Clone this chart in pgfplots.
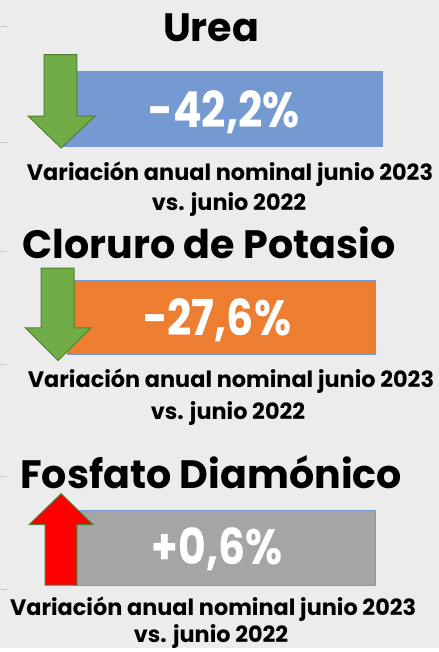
\documentclass[border=0pt]{standalone}
\usepackage{pgfplots}
\pgfplotsset{compat=1.18}
\usepackage{fontspec}
\setmainfont{Poppins}
\definecolor{bgc}{HTML}{ECECEC}
\definecolor{ureab}{HTML}{7599D1}
\definecolor{clob}{HTML}{ED7D31}
\definecolor{fosb}{HTML}{A5A5A5}
\definecolor{agreen}{HTML}{70AD47}
\definecolor{agreend}{HTML}{507E32}
\definecolor{ared}{HTML}{FF0000}
\begin{document}
\begin{tikzpicture}
\begin{axis}[
  width=441bp, height=652bp, scale only axis,
  xmin=0, xmax=441, ymin=0, ymax=652, y dir=reverse,
  axis lines=none, clip=false,
  axis background/.style={fill=bgc},
]
% left edge marks
\addplot[draw=gray!45, line width=1pt, forget plot] coordinates {(0,27) (7,27)};
\addplot[draw=gray!45, line width=1pt, forget plot] coordinates {(0,143) (7,143)};
\addplot[draw=gray!45, line width=1pt, forget plot] coordinates {(0,253) (7,253)};
\addplot[draw=gray!45, line width=1pt, forget plot] coordinates {(0,367) (7,367)};
\addplot[draw=gray!45, line width=1pt, forget plot] coordinates {(0,480) (7,480)};
\addplot[draw=gray!45, line width=1pt, forget plot] coordinates {(0,593) (7,593)};
% boxes
\addplot[fill=ureab, draw=none] coordinates {(62,71) (385,71) (385,148) (62,148)} -- cycle;
\addplot[fill=clob, draw=ureab, line width=1pt] coordinates {(67,282) (377,282) (377,357) (67,357)} -- cycle;
\addplot[fill=fosb, draw=ureab, line width=1pt] coordinates {(75,514) (377,514) (377,589) (75,589)} -- cycle;
% arrows
\addplot[fill=agreen, draw=agreend, line width=1pt] coordinates {(44,55) (77,55) (77,117) (95,117) (61,149) (28,117) (44,117)} -- cycle;
\addplot[fill=agreen, draw=agreend, line width=1pt] coordinates {(41,270) (74,270) (74,330) (91,330) (58,363) (25,330) (41,330)} -- cycle;
\addplot[fill=ared, draw=agreend, line width=1pt] coordinates {(45,589) (77,589) (77,528) (93,528) (61,497) (29,528) (45,528)} -- cycle;
% titles
\node[anchor=base, font=\fontsize{40}{40}\selectfont\bfseries] at (axis cs:212,42) {Urea};
\node[anchor=base, font=\fontsize{40}{40}\selectfont\bfseries] at (axis cs:210,260) {Cloruro de Potasio};
\node[anchor=base, font=\fontsize{40}{40}\selectfont\bfseries] at (axis cs:212,492) {Fosfato Diamónico};
% values
\node[anchor=base, xscale=0.86, text=white, font=\fontsize{50}{50}\selectfont\bfseries] at (axis cs:225,128) {-42,2\%};
\node[anchor=base, xscale=0.86, text=white, font=\fontsize{50}{50}\selectfont\bfseries] at (axis cs:218,338) {-27,6\%};
\node[anchor=base, xscale=0.86, text=white, font=\fontsize{50}{50}\selectfont\bfseries] at (axis cs:218,568) {+0,6\%};
% subtitles
\node[anchor=base, font=\fontsize{22.6}{22.6}\selectfont\bfseries] at (axis cs:231,182) {Variación anual nominal junio 2023};
\node[anchor=base, font=\fontsize{22.6}{22.6}\selectfont\bfseries] at (axis cs:230,212) {vs. junio 2022};
\node[anchor=base, font=\fontsize{22.6}{22.6}\selectfont\bfseries] at (axis cs:232,390) {Variación anual nominal junio 2023};
\node[anchor=base, font=\fontsize{22.6}{22.6}\selectfont\bfseries] at (axis cs:229,422) {vs. junio 2022};
\node[anchor=base, font=\fontsize{22.6}{22.6}\selectfont\bfseries] at (axis cs:214,620) {Variación anual nominal junio 2023};
\node[anchor=base, font=\fontsize{22.6}{22.6}\selectfont\bfseries] at (axis cs:212,647) {vs. junio 2022};
\end{axis}
\end{tikzpicture}
\end{document}
